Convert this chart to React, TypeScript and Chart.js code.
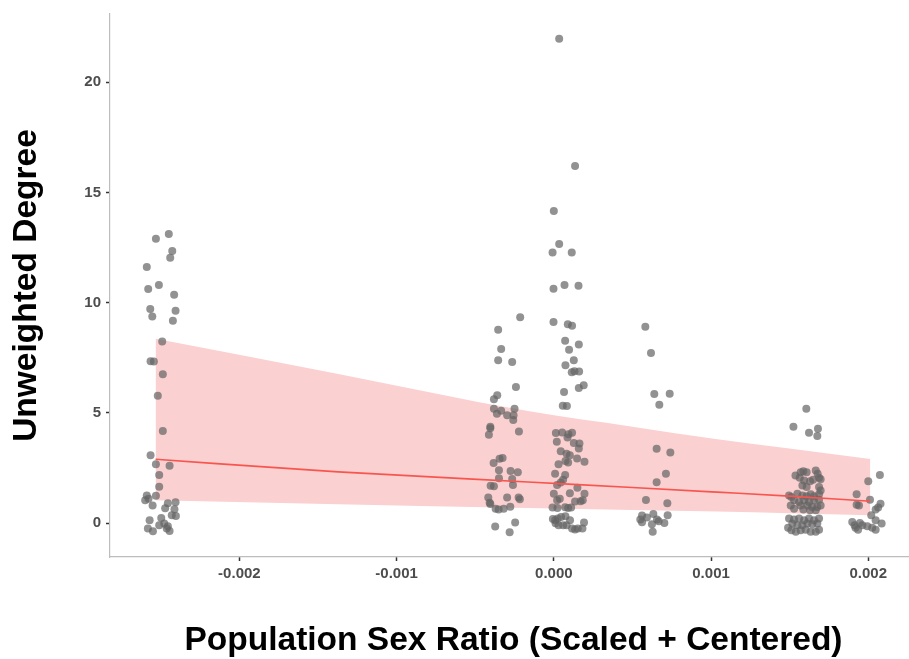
import { useEffect, useRef } from 'react';
import { Chart, registerables } from 'chart.js';

Chart.register(...registerables);

// ---- axis ticks ----
const X_TICKS = [-0.002, -0.001, 0, 0.001, 0.002];
const X_TICK_LABELS = ['-0.002', '-0.001', '0.000', '0.001', '0.002'];
const Y_TICKS = [0, 5, 10, 15, 20];
const Y_TICK_LABELS = ['0', '5', '10', '15', '20'];
const X_MIN = -0.002823;
const X_MAX = 0.00231;
const Y_MIN = -1.53;
const Y_MAX = 23.09;

const X_TITLE = 'Population Sex Ratio (Scaled + Centered)';
const Y_TITLE = 'Unweighted Degree';

// ---- jittered observations (x = scaled sex ratio, y = degree) ----
const groupA_x = [-0.002531, -0.002449, -0.002427, -0.002440, -0.002589, -0.002512, -0.002580, -0.002415, -0.002567, -0.002406, -0.002554, -0.002423, -0.002491, -0.002565, -0.002544, -0.002487, -0.002519, -0.002487, -0.002565, -0.002531, -0.002444, -0.002510, -0.002510, -0.002531, -0.002589, -0.002578, -0.002599, -0.002552, -0.002455, -0.002406, -0.002472, -0.002413, -0.002430, -0.002404, -0.002571, -0.002497, -0.002510, -0.002478, -0.002582, -0.002550, -0.002455, -0.002444, -0.002462];
const groupA_y = [12.90, 13.11, 12.34, 12.04, 11.62, 10.80, 10.62, 10.36, 9.72, 9.64, 9.37, 9.18, 8.24, 7.34, 7.33, 6.76, 5.78, 4.18, 3.08, 2.67, 2.61, 2.19, 1.65, 1.25, 1.26, 1.11, 1.04, 0.80, 0.91, 0.95, 0.68, 0.63, 0.36, 0.33, 0.14, 0.24, -0.09, -0.01, -0.24, -0.36, -0.14, -0.35, -0.24];

const groupB_x = [-0.000214, -0.000354, -0.000335, -0.000354, -0.000265, -0.000241, -0.000360, -0.000381, -0.000381, -0.000362, -0.000335, -0.000297, -0.000258, -0.000250, -0.000256, -0.000404, -0.000404, -0.000413, -0.000222, -0.000383, -0.000345, -0.000326, -0.000349, -0.000275, -0.000229, -0.000349, -0.000265, -0.000402, -0.000381, -0.000260, -0.000417, -0.000408, -0.000404, -0.000297, -0.000224, -0.000216, -0.000370, -0.000351, -0.000319, -0.000277, -0.000373, -0.000281, -0.000246];
const groupB_y = [9.34, 8.77, 7.90, 7.39, 7.31, 6.18, 5.80, 5.62, 5.19, 4.97, 5.10, 4.90, 4.68, 5.19, 4.90, 4.38, 4.31, 4.01, 4.16, 2.73, 2.93, 2.96, 2.40, 2.37, 2.31, 2.04, 2.01, 1.70, 1.68, 1.74, 1.17, 0.93, 0.87, 1.17, 1.17, 1.09, 0.66, 0.62, 0.66, 0.75, -0.15, -0.41, 0.03];

const groupC_x = [0.000034, 0.000135, 0.000000, 0.000034, -0.000008, 0.000114, -0.000002, 0.000068, 0.000157, -0.000002, 0.000089, 0.000116, 0.000072, 0.000097, 0.000159, 0.000127, 0.000074, 0.000114, 0.000131, 0.000161, 0.000159, 0.000190, 0.000065, 0.000057, 0.000083, 0.000013, 0.000053, 0.000093, 0.000116, 0.000019, 0.000087, 0.000127, 0.000163, 0.000159, 0.000044, 0.000081, 0.000102, 0.000074, 0.000091, 0.000148, 0.000195, 0.000030, 0.000008, 0.000072, 0.000059, 0.000044, 0.000021, 0.000150, 0.000000, 0.000102, 0.000195, 0.000021, 0.000038, 0.000135, 0.000170, 0.000184, -0.000008, 0.000023, 0.000072, 0.000091, 0.000110, -0.000006, 0.000008, 0.000025, 0.000046, 0.000074, 0.000011, 0.000030, 0.000059, 0.000081, 0.000103, 0.000116, 0.000135, 0.000152, 0.000182, 0.000192];
const groupC_y = [21.97, 16.20, 14.16, 12.66, 12.28, 12.28, 10.63, 10.80, 10.77, 9.13, 9.02, 8.95, 8.27, 7.87, 8.11, 7.39, 7.16, 6.85, 6.89, 6.88, 6.13, 6.26, 5.95, 5.33, 5.32, 4.09, 4.11, 4.04, 4.10, 3.69, 3.89, 3.64, 3.62, 3.39, 3.26, 3.15, 3.08, 2.82, 2.76, 2.94, 2.79, 2.67, 2.24, 2.19, 1.97, 1.85, 1.73, 1.61, 1.34, 1.36, 1.34, 1.04, 1.11, 0.99, 1.00, 1.04, 0.71, 0.69, 0.73, 0.69, 0.72, 0.19, 0.14, 0.21, 0.28, 0.32, 0.00, -0.09, -0.09, -0.09, 0.14, -0.24, -0.28, -0.24, -0.24, 0.03];

const groupD_x = [0.000582, 0.000618, 0.000639, 0.000737, 0.000671, 0.000654, 0.000741, 0.000713, 0.000654, 0.000586, 0.000722, 0.000633, 0.000724, 0.000561, 0.000592, 0.000550, 0.000561, 0.000624, 0.000656, 0.000667, 0.000703, 0.000629];
const groupD_y = [8.91, 7.72, 5.86, 5.87, 5.37, 3.38, 3.21, 2.25, 1.86, 1.05, 0.91, 0.42, 0.36, 0.35, 0.26, 0.17, 0.05, -0.05, 0.17, 0.09, 0.01, -0.39];

const groupE_x = [0.001606, 0.001524, 0.001623, 0.001680, 0.001676, 0.001537, 0.001570, 0.001587, 0.001608, 0.001666, 0.001678, 0.001687, 0.001564, 0.001592, 0.001630, 0.001649, 0.001697, 0.001581, 0.001608, 0.001687, 0.001697, 0.001549, 0.001581, 0.001608, 0.001634, 0.001655, 0.001687, 0.001496, 0.001511, 0.001528, 0.001560, 0.001592, 0.001623, 0.001655, 0.001687, 0.001507, 0.001570, 0.001613, 0.001644, 0.001676, 0.001697, 0.001528, 0.001587, 0.001630, 0.001666, 0.001496, 0.001528, 0.001560, 0.001592, 0.001623, 0.001655, 0.001687, 0.001517, 0.001549, 0.001581, 0.001613, 0.001644, 0.001676, 0.001490, 0.001511, 0.001539, 0.001570, 0.001602, 0.001634, 0.001666, 0.001687];
const groupE_y = [5.19, 4.38, 4.10, 4.29, 3.96, 2.16, 2.31, 2.36, 2.31, 2.39, 2.24, 2.06, 2.06, 1.94, 1.91, 1.97, 2.00, 1.71, 1.64, 1.64, 1.49, 1.34, 1.26, 1.22, 1.31, 1.22, 1.31, 1.26, 1.19, 1.04, 0.96, 1.04, 0.96, 1.04, 1.07, 0.81, 0.81, 0.81, 0.74, 0.74, 0.81, 0.66, 0.62, 0.59, 0.59, 0.21, 0.17, 0.21, 0.14, 0.21, 0.14, 0.21, -0.01, -0.09, -0.09, -0.01, -0.04, -0.01, -0.20, -0.32, -0.39, -0.32, -0.29, -0.39, -0.39, -0.29];

const groupF_x = [0.002074, 0.002000, 0.001926, 0.002011, 0.001926, 0.001941, 0.002078, 0.002063, 0.002047, 0.002019, 0.002047, 0.002085, 0.001898, 0.001913, 0.001947, 0.001962, 0.001994, 0.002025, 0.002047, 0.001919, 0.001935];
const groupF_y = [2.19, 1.91, 1.31, 1.07, 0.84, 0.81, 0.89, 0.71, 0.62, 0.36, 0.14, -0.01, 0.06, -0.09, 0.01, -0.09, -0.14, -0.20, -0.29, -0.20, -0.29];

// ---- fitted trend with confidence band ----
const FIT_X = [-0.002533, -0.001371, -0.000165, 0.000500, 0.001041, 0.001498, 0.002013];
const FIT_Y = [2.90, 2.33, 1.87, 1.62, 1.41, 1.23, 1.00];
const FIT_LOWER = [1.04, 0.86, 0.69, 0.60, 0.53, 0.45, 0.36];
const FIT_UPPER = [8.36, 6.77, 5.09, 4.38, 3.81, 3.39, 2.91];

const CANVAS_W = 921;
const CANVAS_H = 659;
const FONT = "'Liberation Sans', Arial, Helvetica, sans-serif";

export default function App() {
  const ref = useRef<HTMLCanvasElement>(null);

  useEffect(() => {
    document.body.style.margin = '0';
    const canvas = ref.current;
    if (!canvas) return;

    const groupsX = [groupA_x, groupB_x, groupC_x, groupD_x, groupE_x, groupF_x];
    const groupsY = [groupA_y, groupB_y, groupC_y, groupD_y, groupE_y, groupF_y];
    const points: { x: number; y: number }[] = [];
    groupsX.forEach((xs, g) => xs.forEach((x, i) => points.push({ x, y: groupsY[g][i] })));

    const toXY = (ys: number[]) => FIT_X.map((x, i) => ({ x, y: ys[i] }));

    const chart = new Chart(canvas, {
      type: 'scatter',
      data: {
        datasets: [
          {
            type: 'line',
            data: toXY(FIT_LOWER),
            borderColor: 'rgba(0,0,0,0)',
            borderWidth: 0,
            pointRadius: 0,
            fill: false,
            cubicInterpolationMode: 'monotone',
            order: 3,
          } as any,
          {
            type: 'line',
            data: toXY(FIT_UPPER),
            borderColor: 'rgba(0,0,0,0)',
            borderWidth: 0,
            pointRadius: 0,
            fill: '-1',
            backgroundColor: 'rgb(251,208,208)',
            cubicInterpolationMode: 'monotone',
            order: 2,
          } as any,
          {
            data: points,
            backgroundColor: 'rgba(100,100,100,0.7)',
            borderWidth: 0,
            pointRadius: 4,
            pointHoverRadius: 4,
            order: 1,
          },
          {
            type: 'line',
            data: toXY(FIT_Y),
            borderColor: '#F8554F',
            borderWidth: 1.6,
            pointRadius: 0,
            fill: false,
            cubicInterpolationMode: 'monotone',
            order: 0,
          } as any,
        ],
      },
      options: {
        animation: false,
        responsive: false,
        devicePixelRatio: 1,
        layout: { padding: { top: 11.5, right: 0, bottom: 0, left: 0 } },
        plugins: { legend: { display: false }, tooltip: { enabled: false } },
        scales: {
          x: {
            type: 'linear',
            min: X_MIN,
            max: X_MAX,
            afterBuildTicks: (s: any) => {
              s.ticks = X_TICKS.map((v) => ({ value: v }));
            },
            afterFit: (s: any) => {
              s.height = 102;
            },
            grid: {
              display: true,
              drawOnChartArea: false,
              drawTicks: true,
              tickLength: 4,
              tickColor: '#333333',
              tickWidth: 1.5,
            },
            border: { display: true, color: '#bdbdbd', width: 1.2 },
            ticks: {
              padding: 4,
              color: '#4d4d4d',
              font: { family: FONT, size: 15, weight: 'bold' },
              callback: (v: any) => X_TICK_LABELS[X_TICKS.indexOf(Number(v))] ?? '',
            },
            title: {
              display: true,
              text: X_TITLE,
              color: '#000000',
              font: { family: FONT, size: 33.5, weight: 'bold' },
              padding: { top: 0, bottom: -2 },
            },
          },
          y: {
            type: 'linear',
            min: Y_MIN,
            max: Y_MAX,
            afterBuildTicks: (s: any) => {
              s.ticks = Y_TICKS.map((v) => ({ value: v }));
            },
            afterFit: (s: any) => {
              s.width = 110;
            },
            grid: {
              display: true,
              drawOnChartArea: false,
              drawTicks: true,
              tickLength: 4,
              tickColor: '#333333',
              tickWidth: 1.5,
            },
            border: { display: true, color: '#bdbdbd', width: 1.2 },
            ticks: {
              padding: 5,
              color: '#4d4d4d',
              font: { family: FONT, size: 15, weight: 'bold' },
              callback: (v: any) => Y_TICK_LABELS[Y_TICKS.indexOf(Number(v))] ?? '',
            },
            title: {
              display: true,
              text: Y_TITLE,
              color: '#000000',
              font: { family: FONT, size: 33.5, weight: 'bold' },
              padding: { top: 7, bottom: 0 },
            },
          },
        },
      },
    });

    return () => chart.destroy();
  }, []);

  return (
    <div style={{ width: 909, height: CANVAS_H, overflow: 'hidden', position: 'relative' }}>
      <canvas
        ref={ref}
        width={CANVAS_W}
        height={CANVAS_H}
        style={{ display: 'block', width: CANVAS_W, height: CANVAS_H }}
      />
    </div>
  );
}
